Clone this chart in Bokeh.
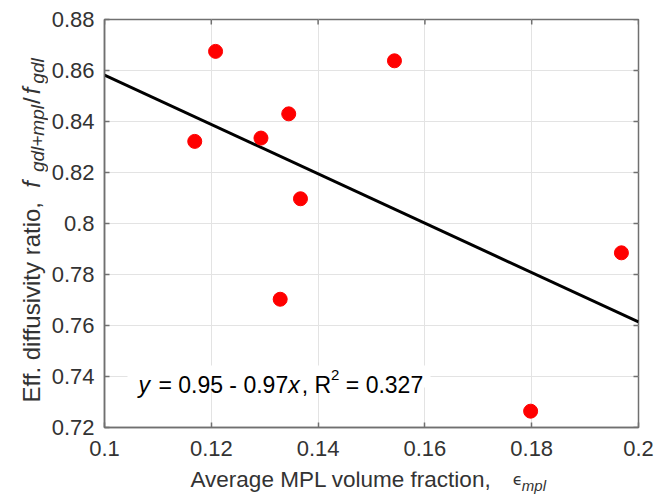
import math
from bokeh.plotting import figure
from bokeh.layouts import row, column
from bokeh.models import FixedTicker, Label, BoxAnnotation, Range1d
from bokeh.embed import file_html
from bokeh.resources import INLINE

# ---- data ----
mpl_fraction = [0.1169, 0.1208, 0.1293, 0.1345, 0.1367, 0.1329, 0.1543, 0.1798, 0.1968]
diff_ratio = [0.8322, 0.8675, 0.8335, 0.8430, 0.8097, 0.7703, 0.8638, 0.7264, 0.7885]
fit_intercept = 0.955
fit_slope = -0.968
fit_x = [0.1, 0.2]
x_ticks = [0.1, 0.12, 0.14, 0.16, 0.18, 0.2]
x_tick_labels = ["0.1", "0.12", "0.14", "0.16", "0.18", "0.2"]
y_ticks = [0.72, 0.74, 0.76, 0.78, 0.8, 0.82, 0.84, 0.86, 0.88]
y_tick_labels = ["0.72", "0.74", "0.76", "0.78", "0.8", "0.82", "0.84", "0.86", "0.88"]
fit_text = ["y", " = 0.95 - 0.97", "x", ", R", "2", " = 0.327"]
x_label = "Average MPL volume fraction,"
y_label = ["Eff. diffusivity ratio,  ", "f", "gdl+mpl", "/", "f", "gdl"]

FONT = "Liberation Sans"
FRAME = "#707070"
TXT = "#333333"

# Arial / Liberation Sans advance widths (per em)
W = {' ': .278, ',': .278, '-': .333, '.': .278, '/': .278, '=': .584, '+': .584,
     'A': .667, 'E': .667, 'L': .556, 'M': .833, 'P': .667, 'R': .722,
     'a': .556, 'c': .5, 'd': .556, 'e': .556, 'f': .278, 'g': .556, 'i': .222,
     'l': .222, 'm': .833, 'n': .556, 'o': .556, 'p': .556, 'r': .333, 's': .5,
     't': .278, 'u': .556, 'v': .5, 'x': .5, 'y': .5}


def tw(s, size):
    return sum(W.get(ch, .556) for ch in s) * size


def lead(s, size):
    return tw(s[:len(s) - len(s.lstrip())], size)


def strip_fig(w, h):
    return figure(frame_width=w, frame_height=h, output_backend="svg", toolbar_location=None,
                  x_range=Range1d(0, w), y_range=Range1d(0, h),
                  x_axis_type=None, y_axis_type=None,
                  min_border=0, min_border_left=0, min_border_right=0,
                  min_border_top=0, min_border_bottom=0,
                  outline_line_color=None, border_fill_color="white",
                  background_fill_color="white")


# ---------------- main plot ----------------
p = figure(frame_width=534, frame_height=408, output_backend="svg", toolbar_location=None,
           x_range=Range1d(x_ticks[0], x_ticks[-1]), y_range=Range1d(y_ticks[0], y_ticks[-1]),
           min_border_left=54, min_border_right=18, min_border_top=19, min_border_bottom=44,
           background_fill_color="white", border_fill_color="white")
p.outline_line_color = FRAME
p.outline_line_width = 1.5

xt = FixedTicker(ticks=x_ticks)
yt = FixedTicker(ticks=y_ticks)
ax_x = p.xaxis[0]
ax_y = p.yaxis[0]
ax_x.ticker = xt
ax_y.ticker = yt
ax_x.major_label_overrides = {t: l for t, l in zip(x_ticks, x_tick_labels)}
ax_y.major_label_overrides = {t: l for t, l in zip(y_ticks, y_tick_labels)}
ax_x.major_label_standoff = 13
ax_y.major_label_standoff = 10
for ax in (ax_x, ax_y):
    ax.axis_line_color = FRAME
    ax.axis_line_width = 1.5
    ax.major_tick_line_color = FRAME
    ax.major_tick_line_width = 1.5
    ax.major_tick_in = 5
    ax.major_tick_out = 0
    ax.minor_tick_line_color = None
    ax.major_label_text_font = FONT
    ax.major_label_text_font_size = "22px"
    ax.major_label_text_color = TXT

p.xgrid.ticker = xt
p.ygrid.ticker = yt
p.xgrid.grid_line_color = "#e3e3e3"
p.ygrid.grid_line_color = "#e3e3e3"

# inward ticks on the top and right edges (box on)
p.ray(x=x_ticks, y=[y_ticks[-1]] * len(x_ticks), length=5, length_units="screen",
      angle=-math.pi / 2, line_color=FRAME, line_width=1.5)
p.ray(x=[x_ticks[-1]] * len(y_ticks), y=y_ticks, length=5, length_units="screen",
      angle=math.pi, line_color=FRAME, line_width=1.5)

# regression line
fit_y = [fit_intercept + fit_slope * v for v in fit_x]
p.line(fit_x, fit_y, line_color="black", line_width=3)

# data points
p.scatter(mpl_fraction, diff_ratio, size=14, fill_color="#ff0000", line_color="#ff0000")

# fit annotation
p.add_layout(BoxAnnotation(left=23, right=326, bottom=40, top=62,
                           left_units="screen", right_units="screen",
                           bottom_units="screen", top_units="screen",
                           fill_color="white", fill_alpha=1.0, line_color=None))
ann_size = 23
sx = 34
base = 43
for piece in fit_text:
    size = ann_size
    yy = base
    style = "italic" if piece in ("y", "x") else "normal"
    if piece == "2":
        size = 15
        yy = base + 10
    p.add_layout(Label(x=sx + lead(piece, size), y=yy, x_units="screen", y_units="screen",
                       text=piece.strip(), text_font=FONT, text_font_size=f"{size}px",
                       text_font_style=style, text_color="black",
                       text_align="left", text_baseline="alphabetic"))
    sx += tw(piece, size) + (2 if style == "italic" else 0)

# ---------------- x-axis label strip (frame aligned with the plot frame) ----------------
px = strip_fig(534, 24)
xl_size = 22.5
xl_x = 86
xl_y = 16
px.add_layout(Label(x=xl_x, y=xl_y, text=x_label, text_font=FONT,
                    text_font_size=f"{xl_size}px", text_color=TXT,
                    text_align="left", text_baseline="alphabetic"))
eps_x = xl_x + tw(x_label, xl_size) + 21
px.add_layout(Label(x=eps_x, y=xl_y, text="\u03f5", text_font="DejaVu Sans",
                    text_font_size="16px", text_color=TXT,
                    text_align="left", text_baseline="alphabetic"))
px.add_layout(Label(x=eps_x + 9, y=xl_y - 6, text="mpl", text_font=FONT,
                    text_font_size="15px", text_font_style="italic", text_color=TXT,
                    text_align="left", text_baseline="alphabetic"))

# ---------------- y-axis label strip ----------------
py = strip_fig(48, 495)
yl_size = 24
sub_size = 19
extra = [0, 9, 1, 3, 4, 0]
ypos = 93
for i, txt in enumerate(y_label):
    is_sub = i in (2, 5)
    size = sub_size if is_sub else yl_size
    style = "italic" if i in (1, 2, 4, 5) else "normal"
    py.add_layout(Label(x=37 if is_sub else 31, y=ypos, angle=math.pi / 2, text=txt.strip(),
                        text_font=FONT, text_font_size=f"{size}px", text_font_style=style,
                        text_color=TXT, text_align="left", text_baseline="alphabetic"))
    ypos += tw(txt, size) + extra[i]

layout = row(py, column(p, px))
open("out.html", "w").write(file_html(layout, INLINE))
